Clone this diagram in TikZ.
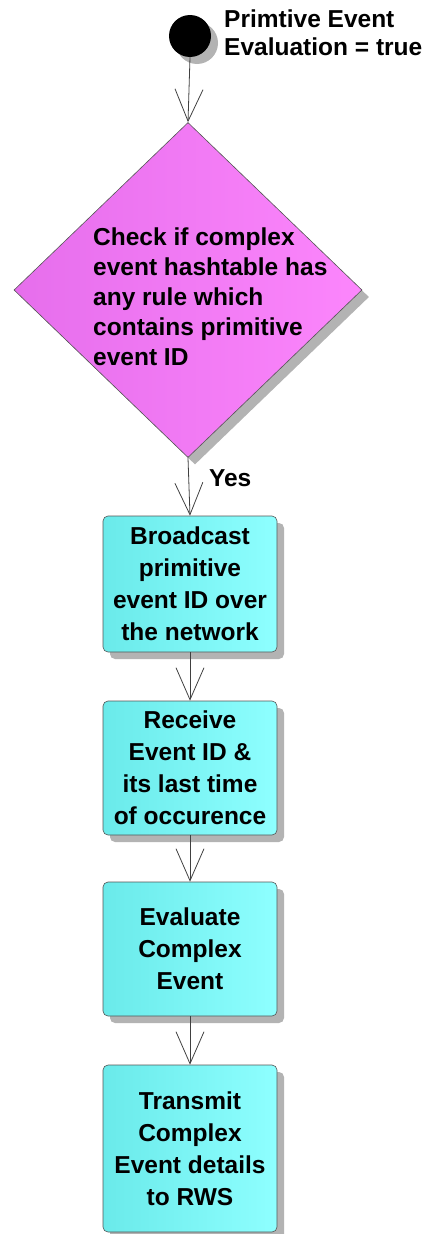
\documentclass[tikz,border=0pt]{standalone}
\usepackage{fontspec}
\setmainfont{Liberation Sans}
\usetikzlibrary{shapes.geometric,arrows.meta,shadows}

\definecolor{boxL}{HTML}{6AEAEA}
\definecolor{boxR}{HTML}{8EFFFF}
\definecolor{diaL}{HTML}{E66EEC}
\definecolor{diaR}{HTML}{FC86FC}
\definecolor{edgegray}{HTML}{555555}

\begin{document}
\begin{tikzpicture}[x=1pt,y=-1pt,
  font=\bfseries,
  flow/.style={draw=black!75, line width=0.8pt,
    -{Straight Barb[length=32pt,width=28pt,line width=0.8pt]}},
  softshadow/.style={drop shadow={shadow xshift=7pt, shadow yshift=-7pt,
    fill=black!40, opacity=0.75}},
  stepbox/.style={draw=edgegray, line width=0.6pt, rounded corners=5pt,
    left color=boxL, right color=boxR, softshadow,
    minimum width=174pt, inner sep=0pt, align=center,
    font=\fontsize{24.5}{32}\selectfont\bfseries},
  decision/.style={shape=diamond, draw=edgegray, line width=0.6pt,
    left color=diaL, right color=diaR, softshadow,
    minimum width=348pt, minimum height=335pt, inner sep=0pt},
  startdot/.style={circle, fill=black, minimum size=42pt, inner sep=0pt,
    softshadow},
  caption/.style={align=left, inner sep=0pt,
    font=\fontsize{24.5}{28}\selectfont\bfseries}]

\useasboundingbox (0,0) rectangle (425,1234);

% initial state and its label
\node[startdot] (start) at (190,36) {};
\node[caption, anchor=west] (startlbl) at (224,33)
  {Primtive Event\\Evaluation = true};

% decision
\node[decision] (check) at (188,290) {};
\node[align=left, inner sep=0pt, anchor=west,
  font=\fontsize{24.5}{30}\selectfont\bfseries] (checktxt) at (93,297)
  {Check if complex\\event hashtable has\\any rule which\\contains primitive\\event ID};

% actions
\node[stepbox, minimum height=136pt] (bcast) at (190,584)
  {Broadcast\\primitive\\event ID over\\the network};
\node[stepbox, minimum height=134pt] (recv) at (190,768)
  {Receive\\Event ID \&\\its last time\\of occurence};
\node[stepbox, minimum height=134pt] (eval) at (190,949)
  {Evaluate\\Complex\\Event};
\node[stepbox, minimum height=167pt] (send) at (190,1148.5)
  {Transmit\\Complex\\Event details\\to RWS};

% connectors
\draw[flow] (start.south) -- (check.north);
\draw[flow] (check.south) -- (bcast.north)
  node[pos=0.35, right=20pt, inner sep=0pt,
    font=\fontsize{24.5}{26}\selectfont\bfseries] (yes) {Yes};
\draw[flow] (bcast.south) -- (recv.north);
\draw[flow] (recv.south) -- (eval.north);
\draw[flow] (eval.south) -- (send.north);
\end{tikzpicture}
\end{document}
